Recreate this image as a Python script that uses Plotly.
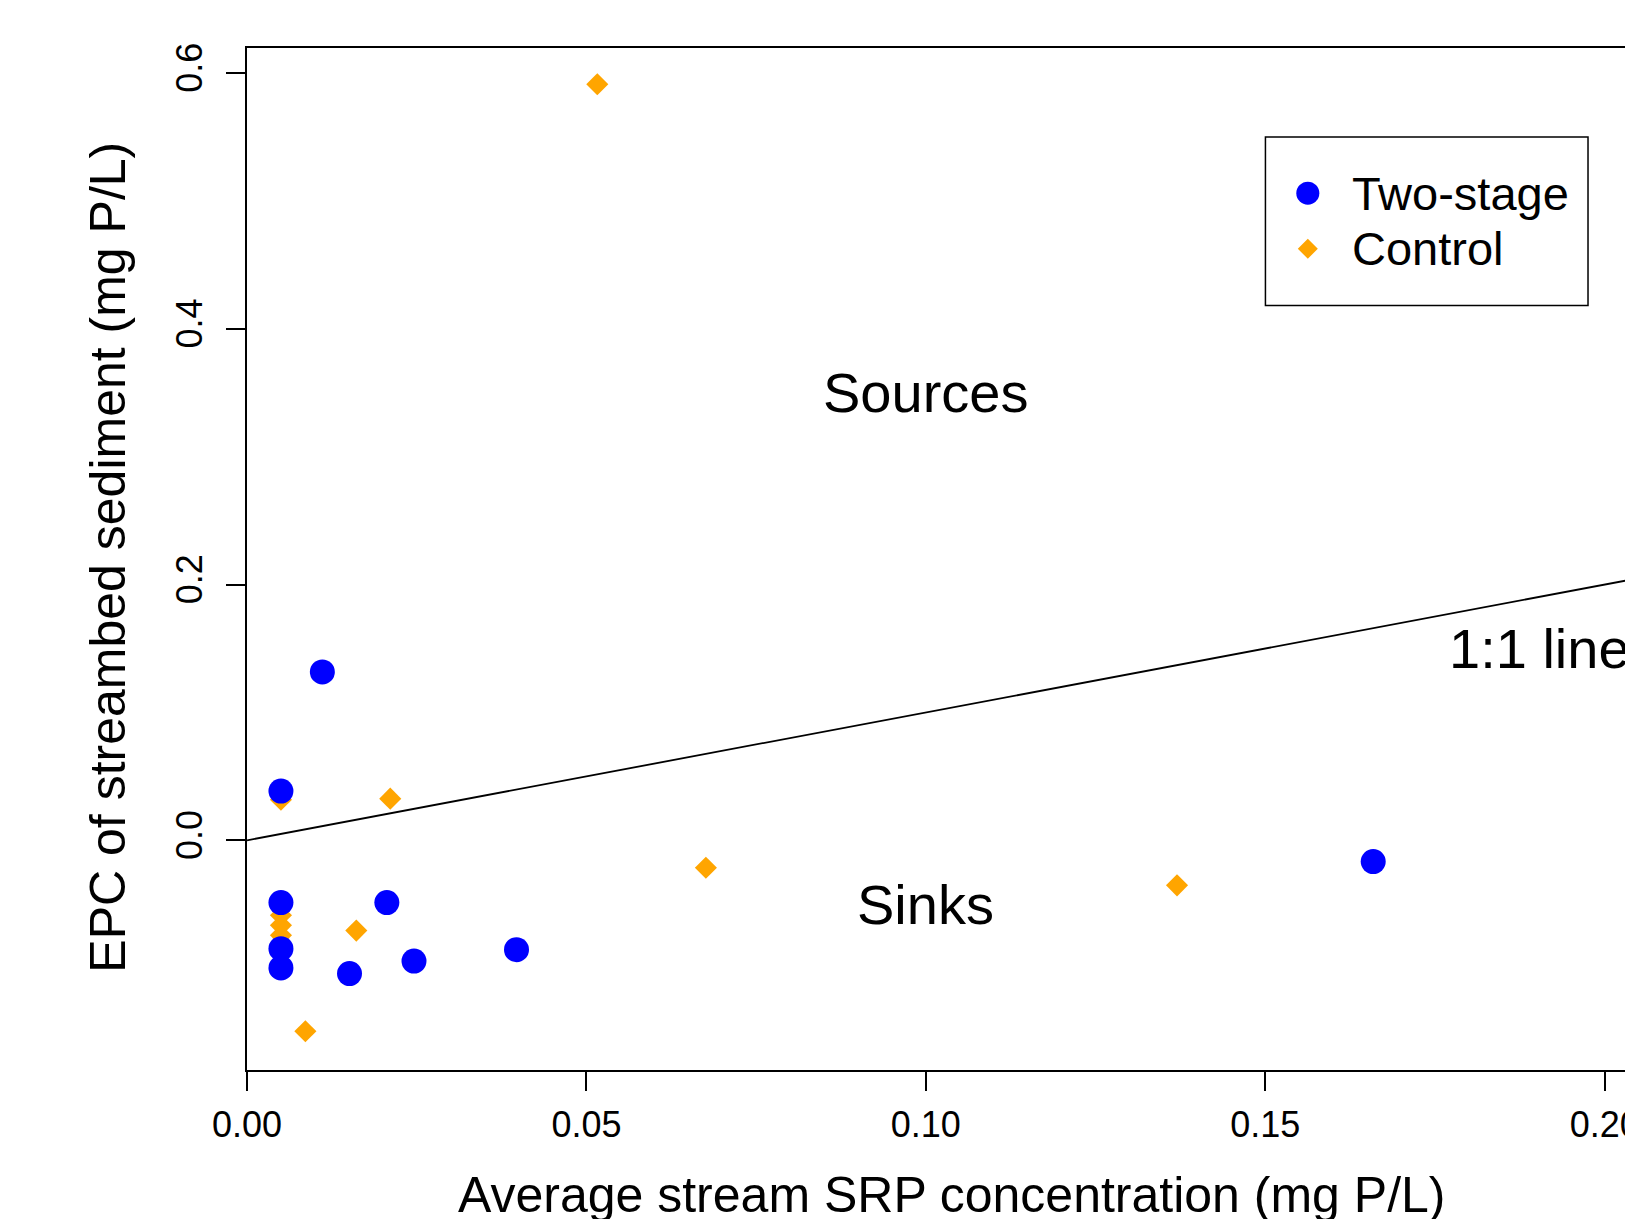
import plotly.graph_objects as go

# ---- data ----
two_stage_x = [0.0111, 0.005, 0.005, 0.0206, 0.005, 0.005, 0.0151, 0.0246, 0.0397, 0.1659]
two_stage_y = [0.1317, 0.0385, -0.0487, -0.0487, -0.0847, -0.0998, -0.1042, -0.0944, -0.0855, -0.0166]

control_x = [0.005, 0.0211, 0.005, 0.005, 0.005, 0.0161, 0.0086, 0.0516, 0.0676, 0.1370]
control_y = [0.0318, 0.0326, -0.0586, -0.0665, -0.0743, -0.0706, -0.1493, 0.5912, -0.0214, -0.0352]

line_x = [0.0, 0.25]
line_y = [0.0, 0.25]

x_ticks = [0.0, 0.05, 0.10, 0.15, 0.20]
x_ticktext = ["0.00", "0.05", "0.10", "0.15", "0.20"]
y_ticks = [0.0, 0.2, 0.4, 0.6]
y_ticktext = ["0.0", "0.2", "0.4", "0.6"]

FONT = "Liberation Sans, Arial, Helvetica, sans-serif"

OFF = 0  # body margin removed below
W, H = 1625, 1219
L, R, T, B = 246.5, 0, 47.5, 149.3
PW = W - L - R
PH = H - T - B


def px(x):
    return (x - OFF - L) / PW


def py(y):
    return (T + PH - (y - OFF)) / PH


fig = go.Figure()

fig.add_trace(go.Scatter(
    x=line_x, y=line_y, mode="lines",
    line=dict(color="black", width=1.8), hoverinfo="skip", showlegend=False))

fig.add_trace(go.Scatter(
    x=control_x, y=control_y, mode="markers", name="Control",
    marker=dict(symbol="diamond", size=17, color="#FFA500", line=dict(width=0)),
    showlegend=False))

fig.add_trace(go.Scatter(
    x=two_stage_x, y=two_stage_y, mode="markers", name="Two-stage",
    marker=dict(symbol="circle", size=25, color="#0000FF", line=dict(width=0)),
    showlegend=False))

annotations = [
    dict(x=0.1, y=0.35, xref="x", yref="y", text="Sources", showarrow=False,
         font=dict(size=56, color="black", family=FONT), xanchor="center", yanchor="middle"),
    dict(x=0.1, y=-0.05, xref="x", yref="y", text="Sinks", showarrow=False,
         font=dict(size=56, color="black", family=FONT), xanchor="center", yanchor="middle"),
    dict(x=0.1768, y=0.15, xref="x", yref="y", text="1:1 line", showarrow=False,
         font=dict(size=56, color="black", family=FONT), xanchor="left", yanchor="middle"),
    dict(x=px(952), y=py(1195), xref="paper", yref="paper",
         text="Average stream SRP concentration (mg P/L)", showarrow=False,
         font=dict(size=50, color="black", family=FONT), xanchor="center", yanchor="middle"),
    dict(x=px(107.7), y=py(557), xref="paper", yref="paper",
         text="EPC of streambed sediment (mg P/L)", showarrow=False, textangle=-90,
         font=dict(size=50, color="black", family=FONT), xanchor="center", yanchor="middle"),
    dict(x=px(1350), y=py(192.7), xref="paper", yref="paper", text="Two-stage",
         showarrow=False, font=dict(size=47, color="black", family=FONT),
         xanchor="left", yanchor="middle"),
    dict(x=px(1350), y=py(248.3), xref="paper", yref="paper", text="Control",
         showarrow=False, font=dict(size=47, color="black", family=FONT),
         xanchor="left", yanchor="middle"),
]

shapes = [
    dict(type="rect", xref="paper", yref="paper",
         x0=px(1265.3), x1=px(1588), y0=py(305), y1=py(136.5),
         line=dict(color="black", width=1.5), fillcolor="white", layer="above"),
    dict(type="circle", xref="paper", yref="paper", xsizemode="pixel", ysizemode="pixel",
         xanchor=px(1307.7), yanchor=py(192.7), x0=-11.5, x1=11.5, y0=-11.5, y1=11.5,
         fillcolor="#0000FF", line=dict(width=0), layer="above"),
    dict(type="path", xref="paper", yref="paper", xsizemode="pixel", ysizemode="pixel",
         xanchor=px(1307.7), yanchor=py(248.3),
         path="M -10,0 L 0,10 L 10,0 L 0,-10 Z",
         fillcolor="#FFA500", line=dict(width=0), layer="above"),
]

fig.update_layout(
    template="none",
    width=W, height=H, autosize=False,
    margin=dict(l=L, r=R, t=T, b=B, pad=0),
    paper_bgcolor="white", plot_bgcolor="white",
    font=dict(family=FONT, color="black"),
    showlegend=False,
    hovermode=False,
    annotations=annotations,
    shapes=shapes,
    xaxis=dict(
        range=[0.0, 0.20299], tickvals=x_ticks, ticktext=x_ticktext,
        ticks="outside", ticklen=19, tickwidth=1.5, tickcolor="black",
        showline=True, linecolor="black", linewidth=1.5, mirror=True,
        showgrid=False, zeroline=False, ticklabeloverflow="allow",
        automargin=False, ticklabelstandoff=3,
        tickfont=dict(size=36, family=FONT, color="black"),
    ),
    yaxis=dict(
        range=[-0.1796, 0.6196], tickvals=y_ticks, ticktext=y_ticktext,
        tickangle=-90,
        ticks="outside", ticklen=19, tickwidth=1.5, tickcolor="black",
        showline=True, linecolor="black", linewidth=1.5, mirror=False,
        showgrid=False, zeroline=False, ticklabeloverflow="allow",
        automargin=False, ticklabelstandoff=10,
        tickfont=dict(size=36, family=FONT, color="black"),
    ),
)

fig.write_html(
    "out.html",
    config={"displayModeBar": False},
    post_script="document.body.style.margin='0';"
                "document.documentElement.style.overflow='hidden';"
                "document.body.style.overflow='hidden';",
)
